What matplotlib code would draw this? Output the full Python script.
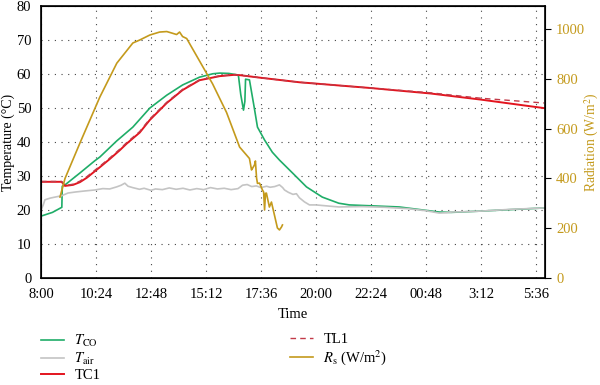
import matplotlib
matplotlib.use("Agg")
import matplotlib.pyplot as plt

plt.rcParams['font.family'] = ['Liberation Serif', 'DejaVu Serif']
plt.rcParams['mathtext.fontset'] = 'stix'

# time in hours from midnight of day 1 (values > 24 are the next morning)
h_tco = [8.0, 8.5, 8.91, 8.93, 9.05, 9.7, 10.35, 10.57, 11.3, 12.01, 12.75, 13.49, 14.18,
         14.92, 15.5, 15.8, 16.2, 16.55, 16.62, 16.72, 16.84, 16.9, 16.93, 17.1, 17.3,
         17.45, 17.76, 18.1, 18.41, 18.98, 19.59, 20.28, 21.0, 21.46, 23.64, 25.38,
         25.9, 27.25, 29.95]
t_co = [18.2, 19.3, 20.8, 27.0, 27.4, 30.9, 34.5, 35.6, 40.3, 44.4, 50.0, 53.8, 56.8,
        59.1, 60.1, 60.3, 60.2, 59.8, 59.5, 54.0, 49.4, 52.0, 58.5, 58.3, 50.5,
        44.4, 40.6, 37.0, 34.7, 30.9, 26.8, 23.8, 22.0, 21.5, 20.9, 19.4,
        19.3, 19.7, 20.6]

h_air = [8.0, 8.1, 8.17, 8.4, 8.61, 8.9, 9.18, 9.5, 9.9, 10.35, 10.7, 11.0, 11.3, 11.5,
         11.66, 11.8, 12.0, 12.3, 12.5, 12.8, 13.0, 13.3, 13.6, 13.9, 14.2, 14.5, 14.8,
         15.1, 15.4, 15.7, 16.0, 16.3, 16.6, 16.8, 17.0, 17.2, 17.4, 17.6, 17.85, 18.0,
         18.2, 18.41, 18.55, 18.63, 18.8, 19.0, 19.15, 19.28, 19.5, 19.72, 20.0, 20.5,
         21.0, 22.0, 23.0, 24.0, 24.8, 25.38, 25.7, 25.94, 26.5, 27.25, 28.5, 29.95]
t_air = [20.0, 21.5, 23.0, 23.5, 23.8, 24.2, 25.0, 25.3, 25.6, 25.9, 26.3, 26.2, 26.8, 27.3,
         27.9, 27.0, 26.6, 26.1, 26.4, 25.8, 26.2, 26.0, 26.5, 26.1, 26.4, 25.9, 26.3,
         26.0, 26.6, 26.2, 26.4, 26.0, 26.3, 27.3, 27.5, 26.9, 27.1, 26.6, 27.0, 26.7,
         26.9, 27.4, 26.6, 25.9, 25.2, 24.6, 24.8, 23.6, 22.4, 21.5, 21.5, 21.2,
         20.9, 21.0, 20.8, 20.4, 19.8, 19.1, 19.2, 19.4, 19.5, 19.7, 20.2, 20.6]

h_tc = [8.0, 8.9, 9.05, 9.4, 9.7, 10.0, 10.57, 11.0, 11.44, 11.75, 12.31, 12.75, 13.49,
        14.18, 14.92, 15.8, 16.45, 16.67, 17.5, 19.28, 22.4, 25.0, 27.2, 29.95]
tc1 = [28.3, 28.3, 27.1, 27.4, 28.2, 29.5, 32.6, 35.0, 37.6, 39.6, 42.8, 46.5, 51.5,
       55.3, 58.2, 59.4, 59.8, 59.7, 59.0, 57.6, 55.9, 54.3, 52.5, 50.0]
tl1 = [28.4, 28.4, 27.2, 27.6, 28.5, 29.8, 32.9, 35.3, 37.9, 39.9, 43.1, 46.8, 51.7,
       55.5, 58.3, 59.5, 59.8, 59.7, 59.0, 57.6, 55.9, 54.5, 52.9, 51.5]

h_rs = [8.83, 9.05, 9.7, 10.57, 11.31, 12.01, 12.31, 12.75, 13.18, 13.49, 13.71, 13.92,
        14.05, 14.18, 14.36, 14.92, 15.49, 16.1, 16.67, 17.1, 17.19, 17.23, 17.32,
        17.36, 17.41, 17.45, 17.54, 17.67, 17.72, 17.76, 17.8, 17.84, 17.97, 18.06,
        18.19, 18.32, 18.41, 18.5, 18.54]
rs = [325, 400, 542, 727, 863, 944, 956, 976, 988, 990, 984, 978,
      988, 970, 962, 872, 780, 665, 526, 480, 434, 440, 454,
      470, 402, 380, 381, 353, 345, 273, 340, 341, 285, 305,
      253, 201, 193, 205, 213]

tick_hours = [8 + 2.4 * i for i in range(10)]
tick_labels = ['8:00', '10:24', '12:48', '15:12', '17:36', '20:00', '22:24', '00:48', '3:12', '5:36']

c_green = '#1fad68'
c_gray = '#c4c4c4'
c_red = '#e3141e'
c_dash = '#c23a48'
c_gold = '#c49a1c'

fig = plt.figure(figsize=(6, 3.85), dpi=100)
ax = fig.add_axes([0.0683, 0.278, 0.8400, 0.706])
ax2 = ax.twinx()

l1, = ax.plot(h_tco, t_co, color=c_green, lw=1.2, label=r'$T_{\rm CO}$')
l2, = ax.plot(h_air, t_air, color=c_gray, lw=1.2, label=r'$T_{\rm air}$')
l3, = ax.plot(h_tc, tc1, color=c_red, lw=1.4, label='TC1')
l4, = ax.plot(h_tc, tl1, color=c_dash, lw=1.0, ls=(0, (4, 3)), label='TL1')
l5, = ax2.plot(h_rs, rs, color=c_gold, lw=1.2, label=r'$R_{\rm s}$ (W/m$^2$)')

ax.set_xlim(8, 30)
ax.set_ylim(0, 80)
ax2.set_ylim(0, 1092)
ax.set_xticks(tick_hours)
ax.set_xticklabels(tick_labels)
ax.set_yticks(range(0, 81, 10))
ax2.set_yticks(range(0, 1001, 200))

ax.grid(True, color='#444444', ls=(0, (1, 5)), lw=0.8)
ax.tick_params(axis='both', length=0, labelsize=10.5, pad=7)
ax2.tick_params(axis='y', length=4, labelsize=10.5, labelcolor=c_gold, pad=4)

ax.set_xlabel('Time', fontsize=10.5, labelpad=5)
ax.set_ylabel('Temperature (°C)', fontsize=10)
ax2.set_ylabel('Radiation (W/m$^2$)', fontsize=9.8, color=c_gold)
ax.yaxis.set_label_coords(-0.052, 0.5)
ax2.yaxis.set_label_coords(1.076, 0.5)

for sp in ax2.spines.values():
    sp.set_linewidth(1.2)

leg_kw = dict(frameon=False, fontsize=10.5, handlelength=1.6, handletextpad=0.7,
              labelspacing=0.12, borderpad=0, borderaxespad=0)
fig.legend(handles=[l1, l2, l3], loc='upper left', bbox_to_anchor=(0.068, 0.135), **leg_kw)
fig.legend(handles=[l4, l5], loc='upper left', bbox_to_anchor=(0.483, 0.135), **leg_kw)

fig.savefig('out.png', dpi=100)
